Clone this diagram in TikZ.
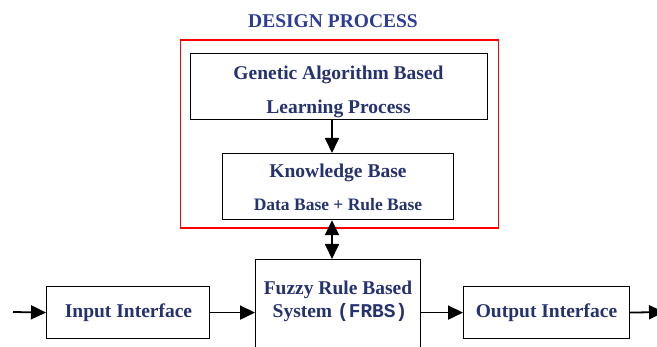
\documentclass[tikz,border=0pt]{standalone}
\usepackage{fontspec}
\setmainfont{Liberation Serif}
\setmonofont{Liberation Mono}
\usetikzlibrary{arrows.meta}
\definecolor{txtc}{RGB}{38,50,112}
\definecolor{titc}{RGB}{45,60,150}
\tikzset{
  box/.style={draw=black,line width=1.2pt,inner sep=0pt,anchor=north west},
  redframe/.style={draw=red,line width=1.6pt,inner sep=0pt,anchor=north west},
  txt/.style={text=txtc,anchor=base,inner sep=0pt,font=\fontsize{19.5}{22}\selectfont\bfseries},
  small/.style={txt,font=\fontsize{17.5}{20}\selectfont\bfseries},
  title/.style={txt,text=titc},
  arr/.style={line width=1.8pt,-{Triangle[length=15pt,width=14pt]}},
  darr/.style={line width=1.8pt,{Triangle[length=15pt,width=14pt]}-{Triangle[length=15pt,width=14pt]}}
}
\begin{document}
\begin{tikzpicture}[x=1pt,y=-1pt]
\useasboundingbox (0,0) rectangle (657,347);
% frames and boxes
\node[redframe,minimum width=318pt,minimum height=188pt] (dp) at (179.5,39.5) {};
\node[box,minimum width=297pt,minimum height=66pt] (ga) at (190,53) {};
\node[box,minimum width=231pt,minimum height=66pt] (kb) at (222,153) {};
\node[box,minimum width=163pt,minimum height=52pt] (inp) at (46,286) {};
\node[box,minimum width=165pt,minimum height=100pt] (frbs) at (255,259) {};
\node[box,minimum width=166pt,minimum height=52pt] (out) at (463,286) {};
% texts
\node[title] (t0) at (333,28) {DESIGN PROCESS};
\node[txt] (t1) at (338.5,80) {Genetic Algorithm Based};
\node[txt] (t2) at (338.5,114) {Learning Process};
\node[txt] (t3) at (338,178) {Knowledge Base};
\node[small] (t4) at (338,211) {Data Base + Rule Base};
\node[txt] (t5) at (128.5,318) {Input Interface};
\node[txt] (t6) at (338,295) {Fuzzy Rule Based};
\node[txt] (t7) at (340,318) {System {\ttfamily(FRBS)}};
\node[txt] (t8) at (546.5,318) {Output Interface};
% connectors
\coordinate (ax) at (332,0);
\coordinate (lin) at (13,312);
\coordinate (rout) at (664,312);
\draw[arr] (ga.south -| ax) -- (kb.north -| ax);
\draw[darr] (kb.south -| ax) -- (frbs.north -| ax);
\draw[arr] (lin) -- (inp.west);
\draw[arr] (inp.east) -- (inp.east -| frbs.west);
\draw[arr] (out.west -| frbs.east) -- (out.west);
\draw[arr] (out.east) -- (rout);
\end{tikzpicture}
\end{document}
